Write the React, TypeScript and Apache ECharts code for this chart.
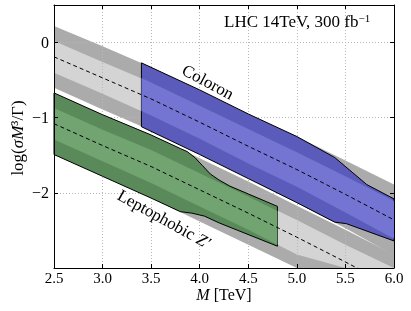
import React, { useEffect, useRef } from 'react';
import * as echarts from 'echarts';

const FONT = '"Liberation Serif", "Times New Roman", serif';

// Shared mass grid for the theory bands (TeV)
const xs = [2.5, 3.0, 3.5, 4.0, 4.5, 5.0, 5.5, 6.0];

// Coloron theory band
const colCenter = [-0.19, -0.47, -0.75, -1.06, -1.38, -1.69, -2.02, -2.36];
const colOuterTop = [0.22, -0.05, -0.33, -0.63, -0.95, -1.25, -1.57, -1.89];
const colOuterBottom = [-0.6, -0.89, -1.17, -1.49, -1.81, -2.13, -2.47, -2.83];
const colInnerTop = [0.02, -0.26, -0.53, -0.84, -1.15, -1.46, -1.78, -2.11];
const colInnerBottom = [-0.4, -0.68, -0.97, -1.28, -1.61, -1.92, -2.26, -2.61];

// Leptophobic Z' theory band
const zpCenter = [-1.08, -1.37, -1.65, -1.96, -2.27, -2.59, -2.92, -3.26];
const zpOuterTop = [-0.67, -0.96, -1.23, -1.54, -1.85, -2.17, -2.49, -2.82];
const zpOuterBottom = [-1.49, -1.78, -2.07, -2.38, -2.69, -3.01, -3.35, -3.7];
const zpInnerTop = [-0.87, -1.16, -1.43, -1.74, -2.05, -2.36, -2.69, -3.02];
const zpInnerBottom = [-1.29, -1.58, -1.87, -2.18, -2.49, -2.82, -3.15, -3.5];

// Coloron reach region (blue)
const blueTopX = [3.4, 4.0, 4.5, 5.0, 5.39, 5.72, 6.0];
const blueTop = [-0.27, -0.63, -0.95, -1.25, -1.53, -1.89, -2.08];
const blueBottomX = [3.4, 4.0, 4.5, 5.0, 5.39, 5.51, 6.0];
const blueBottom = [-1.12, -1.49, -1.81, -2.13, -2.39, -2.41, -2.64];
const blueInnerX = [3.4, 3.5, 4.0, 4.5, 5.0, 5.5, 6.0];
const blueInnerTop = [-0.47, -0.53, -0.84, -1.15, -1.46, -1.78, -2.11];
const blueInnerBottom = [-0.91, -0.97, -1.28, -1.61, -1.92, -2.26, -2.61];

// Leptophobic Z' reach region (green)
const greenTopX = [2.5, 3.0, 3.5, 3.8, 3.87, 3.95, 4.03, 4.11, 4.2, 4.31, 4.8];
const greenTop = [-0.67, -0.96, -1.23, -1.41, -1.45, -1.53, -1.64, -1.75, -1.83, -1.91, -2.18];
const greenBottomX = [2.5, 3.0, 3.5, 3.8, 3.92, 4.05, 4.2, 4.8];
const greenBottom = [-1.49, -1.78, -2.07, -2.25, -2.27, -2.31, -2.4, -2.71];
const greenInnerX = [2.5, 3.0, 3.5, 4.0, 4.5, 4.8];
const greenInnerTop = [-0.87, -1.16, -1.43, -1.74, -2.05, -2.24];
const greenInnerBottom = [-1.29, -1.58, -1.87, -2.18, -2.49, -2.69];

// Axis ticks
const xGridTicks = [3.0, 3.5, 4.0, 4.5, 5.0, 5.5];
const yGridTicks = [0, -1, -2];

const pts = (xa: number[], ya: number[]) => xa.map((x, i) => [x, ya[i]]);

function polySeries(topX: number[], top: number[], botX: number[], bot: number[], fill: string, stroke: string | null, z: number) {
  const poly = [...pts(topX, top), ...pts(botX, bot).reverse()];
  return {
    type: 'custom',
    z,
    silent: true,
    data: poly,
    renderItem: (params: any, api: any) => {
      if (params.dataIndex !== 0) return null;
      const cs = params.coordSys;
      const points = poly.map((p) => {
        const c = api.coord(p);
        return [
          Math.min(Math.max(c[0], cs.x), cs.x + cs.width),
          Math.min(Math.max(c[1], cs.y), cs.y + cs.height),
        ];
      });
      return {
        type: 'polygon',
        shape: { points },
        style: stroke
          ? { fill, stroke, lineWidth: 1, lineJoin: 'round' }
          : { fill, stroke: 'none', lineWidth: 0 },
      };
    },
  };
}

function dashed(ya: number[]) {
  return {
    type: 'line',
    data: pts(xs, ya),
    symbol: 'none',
    showSymbol: false,
    silent: true,
    z: 30,
    lineStyle: { color: '#000', width: 1, type: [4, 3] },
  };
}

const DARK_GRAY = '#ababab';
const LIGHT_GRAY = '#d4d4d4';
const BLUE_DARK = '#5b5bbc';
const BLUE_LIGHT = '#7474d3';
const GREEN_DARK = '#5a8a5a';
const GREEN_LIGHT = '#72a472';

export default function App() {
  const ref = useRef<HTMLDivElement>(null);
  useEffect(() => {
    if (!ref.current) return;
    const chart = echarts.init(ref.current, undefined, { renderer: 'svg' });
    const axisCommon = {
      axisLine: { show: true, onZero: false, lineStyle: { color: '#000', width: 1 } },
      axisTick: { show: true, inside: true, length: 4, lineStyle: { color: '#000', width: 1 } },
      splitLine: { show: false },
      z: 50,
    };
    chart.setOption({
      animation: false,
      grid: { left: 54, right: 17, top: 5, bottom: 43, containLabel: false },
      xAxis: [
        {
          type: 'value', min: 2.5, max: 6.0, interval: 0.5, position: 'bottom',
          ...axisCommon,
          axisLabel: {
            show: true, margin: 2, color: '#000', fontFamily: FONT, fontSize: 15,
            formatter: (v: number) => v.toFixed(1),
          },
        },
        {
          type: 'value', min: 2.5, max: 6.0, interval: 0.5, position: 'top',
          ...axisCommon, axisLabel: { show: false },
        },
      ],
      yAxis: [
        {
          type: 'value', min: -3, max: 0.5, interval: 1, position: 'left',
          ...axisCommon,
          axisLabel: {
            show: true, margin: 5, color: '#000', fontFamily: FONT, fontSize: 16,
            formatter: (v: number) => {
              if (Math.abs(v - Math.round(v)) > 1e-6 || v < -2.5) return '';
              return v < 0 ? '\u2212' + Math.abs(v) : String(v);
            },
          },
        },
        {
          type: 'value', min: -3, max: 0.5, interval: 1, position: 'right',
          ...axisCommon, axisLabel: { show: false },
        },
      ],
      series: [
        polySeries(xs, colOuterTop, xs, colOuterBottom, DARK_GRAY, null, 1),
        polySeries(xs, zpOuterTop, xs, zpOuterBottom, DARK_GRAY, null, 1),
        polySeries(xs, colInnerTop, xs, colInnerBottom, LIGHT_GRAY, null, 2),
        polySeries(xs, zpInnerTop, xs, zpInnerBottom, LIGHT_GRAY, null, 2),
        {
          type: 'line',
          data: [],
          z: 5,
          silent: true,
          markLine: {
            silent: true,
            symbol: ['none', 'none'],
            label: { show: false },
            lineStyle: { color: '#b8b8b8', width: 1, type: [1, 2] },
            data: [
              ...xGridTicks.map((v) => ({ xAxis: v })),
              ...yGridTicks.map((v) => ({ yAxis: v })),
            ],
          },
        },
        polySeries(blueTopX, blueTop, blueBottomX, blueBottom, BLUE_DARK, '#000', 10),
        polySeries(blueInnerX, blueInnerTop, blueInnerX, blueInnerBottom, BLUE_LIGHT, null, 11),
        polySeries(greenTopX, greenTop, greenBottomX, greenBottom, GREEN_DARK, '#000', 10),
        polySeries(greenInnerX, greenInnerTop, greenInnerX, greenInnerBottom, GREEN_LIGHT, null, 11),
        dashed(colCenter),
        dashed(zpCenter),
      ],
      graphic: [
        {
          type: 'text', left: 224, top: 12, z: 100,
          style: {
            text: '{a|LHC 14TeV, 300 fb}{s|\u22121}',
            fontFamily: FONT,
            rich: {
              a: { fontFamily: FONT, fontSize: 17, lineHeight: 18, fill: '#000', verticalAlign: 'bottom' },
              s: { fontFamily: FONT, fontSize: 11, lineHeight: 11, fill: '#000', verticalAlign: 'top' },
            },
          },
        },
        {
          type: 'text', x: 208, y: 82, rotation: -28 * Math.PI / 180, z: 100,
          style: { text: 'Coloron', fontFamily: FONT, fontSize: 17, fill: '#000', align: 'center', verticalAlign: 'middle' },
        },
        {
          type: 'text', x: 164, y: 219, rotation: -29 * Math.PI / 180, z: 100,
          style: {
            text: '{a|Leptophobic }{i|Z\u2032}',
            align: 'center', verticalAlign: 'middle',
            rich: {
              a: { fontFamily: FONT, fontSize: 17, fill: '#000' },
              i: { fontFamily: FONT, fontSize: 17, fontStyle: 'italic', fill: '#000' },
            },
          },
        },
        {
          type: 'text', x: 224, y: 294, z: 100,
          style: {
            text: '{i|M}{a| [TeV]}',
            align: 'center', verticalAlign: 'middle',
            rich: {
              i: { fontFamily: FONT, fontSize: 16, fontStyle: 'italic', fill: '#000' },
              a: { fontFamily: FONT, fontSize: 16, fill: '#000' },
            },
          },
        },
        {
          type: 'text', x: 17, y: 138, rotation: Math.PI / 2, z: 100,
          style: {
            text: 'log({i|\u03c3M}\u00b3/\u0393)',
            align: 'center', verticalAlign: 'middle',
            fontFamily: FONT, fontSize: 17, fill: '#000',
            rich: {
              i: { fontFamily: FONT, fontSize: 17, fontStyle: 'italic', fill: '#000' },
            },
          },
        },
      ],
    });
    return () => chart.dispose();
  }, []);
  return <div ref={ref} style={{ position: 'fixed', left: 0, top: 0, width: 411, height: 311 }} />;
}
